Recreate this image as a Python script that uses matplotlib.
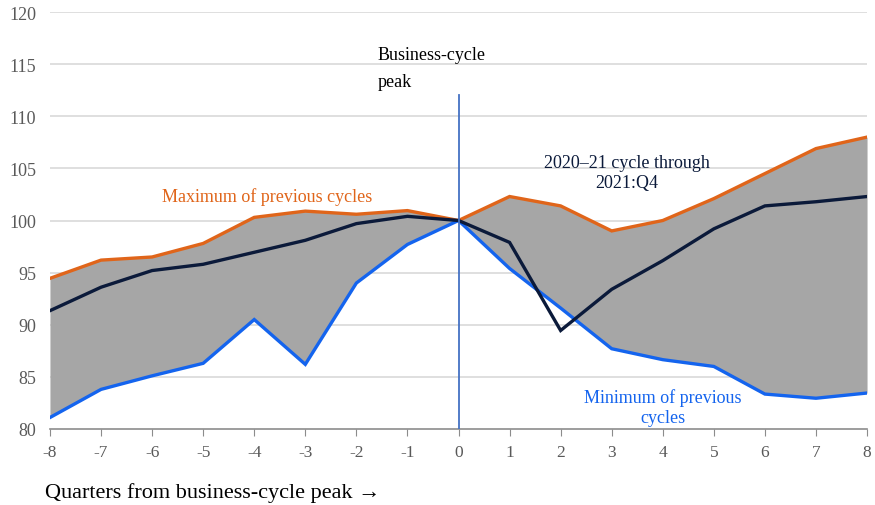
"""Recreate the business-cycle comparison band chart."""

import matplotlib

matplotlib.use("Agg")
import matplotlib.pyplot as plt

QUARTERS = list(range(-8, 9))
MAX_PREVIOUS = [94.45, 96.2, 96.5, 97.8, 100.3, 100.9, 100.6, 100.95, 100.0,
                102.3, 101.4, 99.0, 100.0, 102.1, 104.5, 106.9, 108.0]
MIN_PREVIOUS = [81.1, 83.8, 85.1, 86.3, 90.5, 86.2, 94.0, 97.7, 100.0,
                95.4, 91.6, 87.7, 86.65, 86.0, 83.35, 82.95, 83.45]
CURRENT_CYCLE = [91.35, 93.6, 95.2, 95.8, 96.95, 98.1, 99.7, 100.4, 100.0,
                 97.9, 89.45, 93.4, 96.15, 99.2, 101.4, 101.8, 102.3]
Y_TICKS = [80, 85, 90, 95, 100, 105, 110, 115, 120]

ORANGE = "#e0651a"
BLUE = "#1464ee"
NAVY = "#0b1a3a"
GREY_TEXT = "#595959"

plt.rcParams["font.family"] = ["Liberation Serif", "DejaVu Serif"]

fig = plt.figure(figsize=(8.75, 5.06), dpi=100)
ax = fig.add_axes([0.0571, 0.1502, 0.9338, 0.8241])

ax.fill_between(QUARTERS, MIN_PREVIOUS, MAX_PREVIOUS, color="#a6a6a6", lw=0, zorder=1)
ax.plot(QUARTERS, MAX_PREVIOUS, color=ORANGE, lw=2.4, zorder=3, solid_joinstyle="miter")
ax.plot(QUARTERS, MIN_PREVIOUS, color=BLUE, lw=2.4, zorder=3, solid_joinstyle="miter")
ax.plot(QUARTERS, CURRENT_CYCLE, color=NAVY, lw=2.4, zorder=4, solid_joinstyle="miter")
ax.plot([0, 0], [80, 112], color="#4472c4", lw=1.3, zorder=5)

ax.set_xlim(-8, 8)
ax.set_ylim(80, 120)
ax.set_yticks(Y_TICKS)
ax.set_xticks(QUARTERS)
ax.set_xticklabels([str(q) for q in QUARTERS])

for value in Y_TICKS[1:]:
    ax.axhline(value, color="#d9d9d9", lw=1.2, zorder=0)

for side in ("top", "right", "left"):
    ax.spines[side].set_visible(False)
ax.spines["bottom"].set_color("#8c8c8c")
ax.spines["bottom"].set_linewidth(1.2)
ax.tick_params(axis="x", direction="out", length=5, color="#8c8c8c",
               labelsize=12.5, labelcolor=GREY_TEXT, pad=6)
ax.tick_params(axis="y", length=0, labelsize=13, labelcolor=GREY_TEXT, pad=10)

ax.text(-1.58, 116.7, "Business-cycle\npeak", fontsize=13, color="black",
        ha="left", va="top", linespacing=1.75)
ax.text(-3.75, 102.3, "Maximum of previous cycles", fontsize=13, color=ORANGE,
        ha="center", va="center")
ax.text(3.3, 104.6, "2020–21 cycle through\n2021:Q4", fontsize=13, color=NAVY,
        ha="center", va="center", linespacing=1.3)
ax.text(4.0, 82.1, "Minimum of previous\ncycles", fontsize=13, color=BLUE,
        ha="center", va="center", linespacing=1.3)

fig.text(0.051, 0.006, "Quarters from business-cycle peak →", fontsize=16,
         color="black", ha="left", va="bottom")

fig.savefig("out.png", dpi=100)
